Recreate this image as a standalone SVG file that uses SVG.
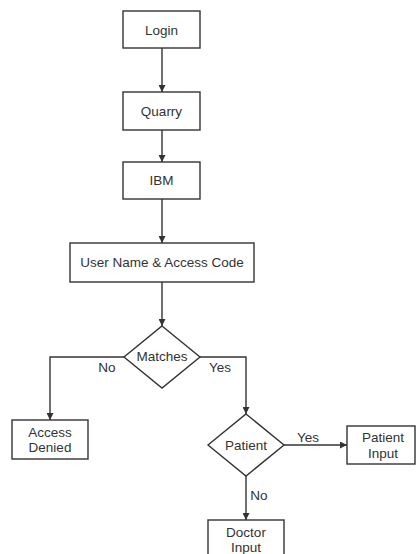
<svg xmlns="http://www.w3.org/2000/svg" width="416" height="554" viewBox="0 0 416 554">
<style>
.box{fill:#fff;stroke:#333;stroke-width:1.4}
.lbl{font-family:"Liberation Sans",Arial,sans-serif;font-size:13.5px;fill:#333;text-anchor:middle;dominant-baseline:central}
.conn{fill:none;stroke:#333;stroke-width:1.4}
</style>
<defs>
<marker id="arr" viewBox="0 0 10 10" refX="10" refY="5" markerWidth="7" markerHeight="7" markerUnits="userSpaceOnUse" orient="auto">
<path d="M0,0 L10,5 L0,10 z" fill="#333"/>
</marker>
</defs>
<rect width="416" height="554" fill="#fff"/>
<g id="connectors">
<line class="conn" x1="162" y1="48" x2="162" y2="92" marker-end="url(#arr)"/>
<line class="conn" x1="162" y1="130" x2="162" y2="162" marker-end="url(#arr)"/>
<line class="conn" x1="162" y1="199" x2="162" y2="243" marker-end="url(#arr)"/>
<line class="conn" x1="162" y1="282" x2="162" y2="326" marker-end="url(#arr)"/>
<polyline class="conn" points="124,357 50,357 50,420" marker-end="url(#arr)"/>
<polyline class="conn" points="200,357 246,357 246,414" marker-end="url(#arr)"/>
<line class="conn" x1="284" y1="445" x2="347" y2="445" marker-end="url(#arr)"/>
<line class="conn" x1="246" y1="476" x2="246" y2="520" marker-end="url(#arr)"/>
<text class="lbl" x="107" y="367">No</text>
<text class="lbl" x="220" y="367">Yes</text>
<text class="lbl" x="308" y="437">Yes</text>
<text class="lbl" x="259" y="495">No</text>
</g>
<g id="login">
<rect class="box" x="123" y="11" width="77" height="37"/>
<text class="lbl" x="161.5" y="30">Login</text>
</g>
<g id="quarry">
<rect class="box" x="123" y="92" width="77" height="38"/>
<text class="lbl" x="161.5" y="111">Quarry</text>
</g>
<g id="ibm">
<rect class="box" x="123" y="162" width="77" height="37"/>
<text class="lbl" x="161.5" y="180.5">IBM</text>
</g>
<g id="user">
<rect class="box" x="70" y="243" width="184" height="39"/>
<text class="lbl" x="162" y="262.5">User Name &amp; Access Code</text>
</g>
<g id="matches">
<polygon class="box" points="162,326 200,357 162,388 124,357"/>
<text class="lbl" x="162" y="356">Matches</text>
</g>
<g id="denied">
<rect class="box" x="12" y="420" width="76" height="39"/>
<text class="lbl" x="50" y="432">Access</text>
<text class="lbl" x="50" y="447.5">Denied</text>
</g>
<g id="patient">
<polygon class="box" points="246,414 284,445 246,476 208,445"/>
<text class="lbl" x="246" y="445">Patient</text>
</g>
<g id="patientinput">
<rect class="box" x="347" y="426" width="68" height="38"/>
<text class="lbl" x="383" y="437">Patient</text>
<text class="lbl" x="383" y="453">Input</text>
</g>
<g id="doctor">
<rect class="box" x="208" y="520" width="76" height="40"/>
<text class="lbl" x="246" y="532">Doctor</text>
<text class="lbl" x="246" y="547">Input</text>
</g>
</svg>
